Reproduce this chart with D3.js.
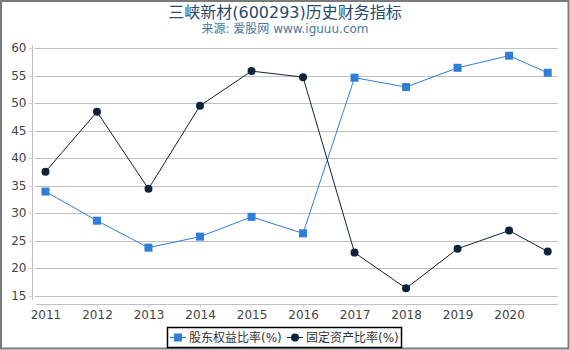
<!DOCTYPE html>
<html><head><meta charset="utf-8">
<script src="https://cdn.jsdelivr.net/npm/d3@7"></script>
<style>
html,body{margin:0;padding:0;background:#fff;}
svg{display:block;font-family:"DejaVu Sans","Noto Sans CJK SC",sans-serif;}
</style></head>
<body>
<svg id="c" width="570" height="350"></svg>
<script>
// periods as year positions (last point = 2020 Q3 report)
const periods = [2011, 2012, 2013, 2014, 2015, 2016, 2017, 2018, 2019, 2020, 2020.75];
const equityRatio = [33.9, 28.6, 23.7, 25.7, 29.3, 26.3, 54.6, 52.9, 56.4, 58.6, 55.5];
const fixedAssetRatio = [37.5, 48.4, 34.4, 49.5, 55.8, 54.7, 22.8, 16.3, 23.5, 26.8, 23.0];
const xTicks = [2011, 2012, 2013, 2014, 2015, 2016, 2017, 2018, 2019, 2020];
const yTicks = [15, 20, 25, 30, 35, 40, 45, 50, 55, 60];
const seriesNames = ["股东权益比率(%)", "固定资产比率(%)"];
const titleText = "三峡新材(600293)历史财务指标";
const subtitleText = "来源: 爱股网 www.iguuu.com";

const svg = d3.select("#c");
const x = d3.scaleLinear().domain([2010.816, 2020.95]).range([36, 558]);
const y = d3.scaleLinear().domain([15, 60]).range([295.5, 48]);

// frame
svg.append("rect").attr("x", 1).attr("y", 1).attr("width", 567.5).attr("height", 347.5)
  .attr("fill", "#fff").attr("stroke", "#7a7a7a").attr("stroke-width", 2);

// title
svg.append("text").attr("x", 285).attr("y", 18).attr("text-anchor", "middle")
  .attr("font-size", 16).attr("fill", "#274b6d").text(titleText);
svg.append("text").attr("x", 285).attr("y", 33).attr("text-anchor", "middle")
  .attr("font-size", 12).attr("fill", "#4d759e").text(subtitleText);

// gridlines
const yAxis = d3.axisLeft(y).tickValues(yTicks).tickSize(0).tickPadding(6);
const gy = svg.append("g").attr("transform", "translate(32.5,0)").call(yAxis);
gy.select(".domain").remove();
gy.selectAll("text").attr("font-size", 12).attr("fill", "#444").attr("font-family", "DejaVu Sans");
svg.append("g").selectAll("line").data(yTicks).join("line")
  .attr("x1", 35).attr("x2", 558)
  .attr("y1", d => Math.round(y(d)) + 0.5).attr("y2", d => Math.round(y(d)) + 0.5)
  .attr("stroke", "#c0c0c0").attr("stroke-width", 1);
// y tick marks
svg.append("g").selectAll("line").data(yTicks).join("line")
  .attr("x1", 29).attr("x2", 32.5)
  .attr("y1", d => Math.round(y(d)) + 0.5).attr("y2", d => Math.round(y(d)) + 0.5)
  .attr("stroke", "#c0d0e0").attr("stroke-width", 1);
// y axis line
svg.append("line").attr("x1", 32.5).attr("x2", 32.5).attr("y1", 45).attr("y2", 300)
  .attr("stroke", "#c0c0c0").attr("stroke-width", 1);

// x axis
const xAxis = d3.axisBottom(x).tickValues(xTicks).tickFormat(d3.format("d")).tickSize(3).tickPadding(3);
const gx = svg.append("g").attr("transform", "translate(0,304.5)").call(xAxis);
gx.select(".domain").attr("stroke", "#c0c0c0").attr("d", "M36,0H558");
gx.selectAll(".tick line").attr("stroke", "#c0d0e0");
gx.selectAll("text").attr("font-size", 12).attr("fill", "#444").attr("font-family", "DejaVu Sans");

const colors = ["#2f7ed8", "#0d233a"];
const allSeries = [equityRatio, fixedAssetRatio];
const line = d3.line().x((d, i) => x(periods[i])).y(d => y(d));

allSeries.forEach((vals, si) => {
  svg.append("path").datum(vals).attr("d", line).attr("fill", "none")
    .attr("stroke", colors[si]).attr("stroke-width", 1);
});
// markers
svg.append("g").selectAll("rect").data(equityRatio).join("rect")
  .attr("x", (d, i) => x(periods[i]) - 4).attr("y", d => y(d) - 4)
  .attr("width", 8).attr("height", 8).attr("fill", colors[0]);
svg.append("g").selectAll("circle").data(fixedAssetRatio).join("circle")
  .attr("cx", (d, i) => x(periods[i])).attr("cy", d => y(d)).attr("r", 4)
  .attr("fill", colors[1]);

// legend
const lg = svg.append("g");
lg.append("rect").attr("x", 167.5).attr("y", 327.5).attr("width", 234).attr("height", 20)
  .attr("fill", "#fff").attr("stroke", "#000").attr("stroke-width", 1.5);
const items = [{x: 170, tx: 189}, {x: 287, tx: 306}];
items.forEach((it, i) => {
  lg.append("line").attr("x1", it.x).attr("x2", it.x + 16).attr("y1", 337.5).attr("y2", 337.5)
    .attr("stroke", colors[i]).attr("stroke-width", 1);
  if (i === 0) {
    lg.append("rect").attr("x", it.x + 4).attr("y", 333.5).attr("width", 8).attr("height", 8).attr("fill", colors[0]);
  } else {
    lg.append("circle").attr("cx", it.x + 8).attr("cy", 337.5).attr("r", 4).attr("fill", colors[1]);
  }
  lg.append("text").attr("x", it.tx).attr("y", 342).attr("font-size", 12).attr("fill", "#333")
    .text(seriesNames[i]);
});
</script>
</body></html>
